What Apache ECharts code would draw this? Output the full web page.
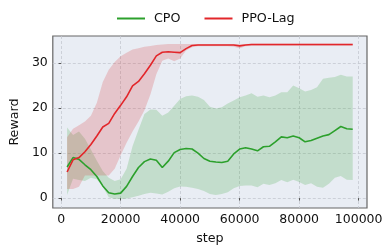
<!DOCTYPE html>
<html><head><meta charset="utf-8">
<script src="https://cdn.jsdelivr.net/npm/echarts@6/dist/echarts.min.js"></script>
<style>html,body{margin:0;padding:0;background:#fff}#c{width:389px;height:250px}</style>
</head><body><div id="c"></div>
<script>
const steps = [2000,4000,6000,8000,10000,12000,14000,16000,18000,20000,22000,24000,26000,28000,30000,32000,34000,36000,38000,40000,42000,44000,46000,48000,50000,52000,54000,56000,58000,60000,62000,64000,66000,68000,70000,72000,74000,76000,78000,80000,82000,84000,86000,88000,90000,92000,94000,96000,98000];
const ppoMean = [5.8,8.5,9.0,10.3,11.9,13.8,15.8,16.6,18.8,20.6,22.5,24.9,25.9,27.6,29.5,31.6,32.4,32.5,32.4,32.3,33.2,33.9,34.0,34.0,34.0,34.0,34.0,34.0,34.0,33.8,34.0,34.1,34.1,34.1,34.1,34.1,34.1,34.1,34.1,34.1,34.1,34.1,34.1,34.1,34.1,34.1,34.1,34.1,34.1];
const ppoUpper = [13.5,15.4,16.2,17.0,18.3,21.2,25.8,28.5,30.2,31.5,32.3,33.0,33.3,33.6,33.8,34.0,34.1,34.2,34.2,34.2,34.2,34.2,34.2,34.2,34.2,34.2,34.2,34.2,34.2,34.1,34.2,34.3,34.3,34.3,34.3,34.3,34.3,34.3,34.3,34.3,34.3,34.3,34.3,34.3,34.3,34.3,34.3,34.3,34.3];
const ppoLower = [2.0,2.0,2.5,5.0,5.0,5.0,5.0,5.0,6.5,9.5,12.3,14.8,17.0,19.5,23.0,27.5,30.5,31.0,30.4,31.0,32.8,33.5,33.7,33.7,33.7,33.7,33.7,33.7,33.6,33.3,33.7,33.8,33.8,33.8,33.8,33.8,33.8,33.8,33.8,33.8,33.8,33.8,33.8,33.8,33.8,33.8,33.8,33.8,33.8];
const cpoMean = [6.9,9.0,8.6,7.4,6.3,4.8,2.7,1.2,0.9,1.1,2.6,4.8,6.8,8.1,8.7,8.4,6.8,8.2,10.1,10.8,11.0,10.9,10.0,8.8,8.2,8.0,7.9,8.2,9.8,10.9,11.2,10.9,10.5,11.4,11.5,12.5,13.6,13.4,13.8,13.4,12.5,12.8,13.3,13.8,14.1,15.0,15.9,15.4,15.3];
const cpoUpper = [15.7,14.0,14.8,13.2,10.8,8.3,6.0,4.5,3.8,4.2,6.5,11.5,15.2,18.7,19.7,19.6,18.3,19.0,20.5,22.0,22.6,22.8,22.5,21.8,20.3,19.9,20.2,21.0,21.7,22.4,22.8,23.3,22.5,22.8,22.4,22.8,23.5,23.5,25.0,24.4,23.7,24.0,24.6,26.5,26.7,26.9,27.4,27.0,27.0];
const cpoLower = [0.7,4.3,4.0,3.8,4.5,4.2,2.5,0.2,-0.2,-0.2,-0.1,0.2,0.5,0.9,1.2,1.0,0.8,1.4,2.2,2.6,2.5,2.3,2.0,1.6,0.9,0.7,0.9,1.3,2.2,2.7,2.8,2.8,2.4,3.2,2.9,3.3,4.0,3.5,4.1,3.6,2.9,3.3,2.5,2.3,3.2,4.5,4.9,4.1,4.0];
const xTicks = [0,20000,40000,60000,80000,100000];
const yTicks = [0,10,20,30];
const seriesNames = ['CPO','PPO-Lag'];

const GREEN = '#2ca02c', RED = '#e2262a';
const FONT = 'DejaVu Sans';
const TXT = '#111';

function band(name, lower, upper, fill) {
  return {
    type: 'custom', name: name, silent: true, z: 1,
    data: steps.map((s, i) => [s, lower[i], upper[i]]),
    encode: { x: 0, y: [1, 2] },
    renderItem: function (params, api) {
      if (params.dataIndex !== 0) return;
      const pts = [];
      for (let i = 0; i < steps.length; i++) pts.push(api.coord([steps[i], upper[i]]));
      for (let i = steps.length - 1; i >= 0; i--) pts.push(api.coord([steps[i], lower[i]]));
      return { type: 'polygon', shape: { points: pts }, style: { fill: fill } };
    }
  };
}
function line(name, vals, color) {
  return {
    type: 'line', name: name, z: 3, symbol: 'none', smooth: false,
    data: steps.map((s, i) => [s, vals[i]]),
    lineStyle: { color: color, width: 1.6 }, itemStyle: { color: color }
  };
}

const chart = echarts.init(document.getElementById('c'), null, { renderer: 'canvas' });
chart.setOption({
  animation: false,
  textStyle: { fontFamily: FONT },
  legend: {
    data: seriesNames, left: 112, top: 7, icon: 'rect', itemWidth: 28, itemHeight: 2,
    itemGap: 24, textStyle: { fontFamily: FONT, fontSize: 12.7, color: TXT, padding: [0, 0, 0, 4] }
  },
  grid: { left: 41, right: 22, top: 36, bottom: 38, show: true, backgroundColor: '#e9edf4', borderColor: '#666', borderWidth: 1.2 },
  xAxis: {
    type: 'value', min: -2800, max: 102800, name: 'step', nameLocation: 'middle', nameGap: 24,
    nameTextStyle: { fontFamily: FONT, fontSize: 12.7, color: TXT },
    axisLine: { show: false },
    axisTick: { show: true, customValues: xTicks, length: 2.5, lineStyle: { color: '#555' } },
    axisLabel: { customValues: xTicks, formatter: v => String(v), fontFamily: FONT, fontSize: 12.5, color: TXT, margin: 5 },
    splitLine: { show: true, customValues: xTicks, lineStyle: { color: '#c4c8d0', type: [3, 2], width: 0.8 } }
  },
  yAxis: {
    type: 'value', min: -2.2, max: 36, name: 'Reward', nameLocation: 'middle', nameGap: 28, nameRotate: 90,
    nameTextStyle: { fontFamily: FONT, fontSize: 12.7, color: TXT },
    axisLine: { show: false },
    axisTick: { show: true, customValues: yTicks, length: 2.5, lineStyle: { color: '#555' } },
    axisLabel: { customValues: yTicks, formatter: v => String(v), fontFamily: FONT, fontSize: 12.5, color: TXT, margin: 5 },
    splitLine: { show: true, customValues: yTicks, lineStyle: { color: '#c4c8d0', type: [3, 2], width: 0.8 } }
  },
  series: [
    band('CPO band', cpoLower, cpoUpper, 'rgba(44,160,44,0.2)'),
    band('PPO-Lag band', ppoLower, ppoUpper, 'rgba(214,39,40,0.2)'),
    line('CPO', cpoMean, GREEN),
    line('PPO-Lag', ppoMean, RED)
  ]
});
</script></body></html>
